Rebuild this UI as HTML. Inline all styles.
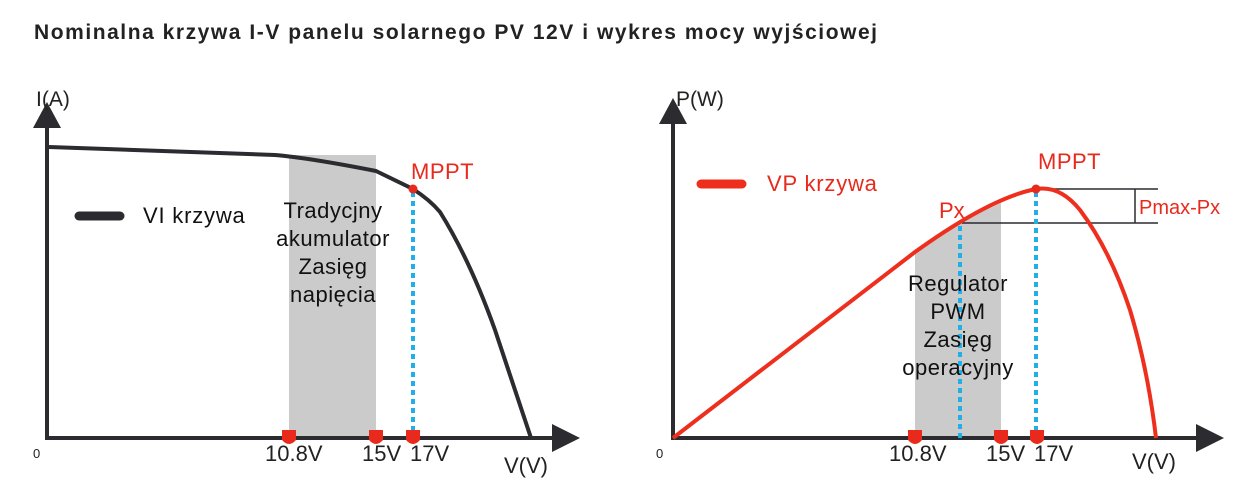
<!DOCTYPE html>
<html><head><meta charset="utf-8"><style>
html,body{margin:0;padding:0;background:#fff;width:1246px;height:488px;overflow:hidden}
svg{display:block;font-family:"Liberation Sans",sans-serif}
</style></head><body>
<svg width="1246" height="488" viewBox="0 0 1246 488">
<text x="34" y="39" font-size="21" font-weight="bold" fill="#222" letter-spacing="1.55">Nominalna krzywa I-V panelu solarnego PV 12V i wykres mocy wyjściowej</text>

<!-- LEFT CHART -->
<rect x="289" y="155" width="87" height="283" fill="#cbcbcb"/>
<line x1="47" y1="125" x2="47" y2="440" stroke="#2b2b30" stroke-width="4"/>
<polygon points="33,128 61,128 47,102" fill="#2b2b30"/>
<line x1="45" y1="438" x2="555" y2="438" stroke="#2b2b30" stroke-width="4"/>
<polygon points="552,424 552,452 580,438" fill="#2b2b30"/>
<text x="36" y="106" font-size="21" fill="#222">I(A)</text>
<text x="33" y="458" font-size="13" fill="#222">0</text>
<path d="M49,147 L275,155 Q310,158 376,171 L413,189 Q430,200 440,212 Q470,260 495,330 Q515,390 531,438" fill="none" stroke="#2b2b30" stroke-width="4"/>
<line x1="413" y1="192" x2="413" y2="432" stroke="#1fb0ea" stroke-width="4" stroke-dasharray="5,4"/>
<circle cx="413" cy="189" r="4.5" fill="#e8291c"/>
<text x="411" y="179" font-size="22" fill="#e8291c" letter-spacing="0.5">MPPT</text>
<line x1="79" y1="216" x2="120" y2="216" stroke="#2b2b30" stroke-width="9" stroke-linecap="round"/>
<text x="143" y="223" font-size="22" fill="#111" letter-spacing="0.8">VI krzywa</text>
<g font-size="22" fill="#111" text-anchor="middle" letter-spacing="0.5">
<text x="333" y="218">Tradycjny</text>
<text x="333" y="246">akumulator</text>
<text x="333" y="274">Zasięg</text>
<text x="333" y="302">napięcia</text>
</g>
<g fill="#e8291c">
<path d="M282,430 h14 v10 q-7,8 -14,0 z"/>
<path d="M369,430 h14 v10 q-7,8 -14,0 z"/>
<path d="M406,430 h14 v10 q-7,8 -14,0 z"/>
</g>
<g font-size="22" fill="#222">
<text x="265" y="461">10.8V</text>
<text x="362" y="461">15V</text>
<text x="410" y="461">17V</text>
<text x="504" y="473">V(V)</text>
</g>

<!-- RIGHT CHART -->
<path d="M915,438 L915,252 Q940,233 960,222 Q985,210 1001,203 L1001,438 Z" fill="#cbcbcb"/>
<line x1="673" y1="120" x2="673" y2="440" stroke="#2b2b30" stroke-width="4"/>
<polygon points="659,124 687,124 673,98" fill="#2b2b30"/>
<line x1="671" y1="438" x2="1200" y2="438" stroke="#2b2b30" stroke-width="4"/>
<polygon points="1196,424 1196,452 1224,438" fill="#2b2b30"/>
<text x="676" y="106" font-size="21" fill="#222">P(W)</text>
<text x="656" y="458" font-size="13" fill="#222">0</text>
<line x1="1036" y1="189" x2="1158" y2="189" stroke="#2b2b30" stroke-width="1.5"/>
<line x1="962" y1="223" x2="1158" y2="223" stroke="#2b2b30" stroke-width="1.5"/>
<line x1="1135" y1="189" x2="1135" y2="223" stroke="#2b2b30" stroke-width="1.5"/>
<text x="1139" y="214" font-size="20" fill="#e8291c">Pmax-Px</text>
<line x1="960" y1="226" x2="960" y2="438" stroke="#1fb0ea" stroke-width="4" stroke-dasharray="5,4"/>
<line x1="1036" y1="192" x2="1036" y2="432" stroke="#1fb0ea" stroke-width="4" stroke-dasharray="5,4"/>
<path d="M673,438 L915,252 Q990,198 1036,189 Q1060,185 1080,210 Q1110,250 1130,310 Q1148,370 1156,438" fill="none" stroke="#ee2f1e" stroke-width="4"/>
<circle cx="1036" cy="189" r="4.5" fill="#e8291c"/>
<text x="1038" y="169" font-size="22" fill="#e8291c" letter-spacing="0.5">MPPT</text>
<text x="939" y="218" font-size="22" fill="#e8291c">Px</text>
<line x1="701" y1="184" x2="742" y2="184" stroke="#ee2f1e" stroke-width="9" stroke-linecap="round"/>
<text x="767" y="191" font-size="22" fill="#e8291c" letter-spacing="0.8">VP krzywa</text>
<g font-size="22" fill="#111" text-anchor="middle" letter-spacing="0.5">
<text x="958" y="291">Regulator</text>
<text x="958" y="319">PWM</text>
<text x="958" y="347">Zasięg</text>
<text x="958" y="375">operacyjny</text>
</g>
<g fill="#e8291c">
<path d="M908,430 h14 v10 q-7,8 -14,0 z"/>
<path d="M994,430 h14 v10 q-7,8 -14,0 z"/>
<path d="M1030,430 h14 v10 q-7,8 -14,0 z"/>
</g>
<g font-size="22" fill="#222">
<text x="889" y="461">10.8V</text>
<text x="986" y="461">15V</text>
<text x="1034" y="461">17V</text>
<text x="1132" y="469">V(V)</text>
</g>
</svg>
</body></html>
